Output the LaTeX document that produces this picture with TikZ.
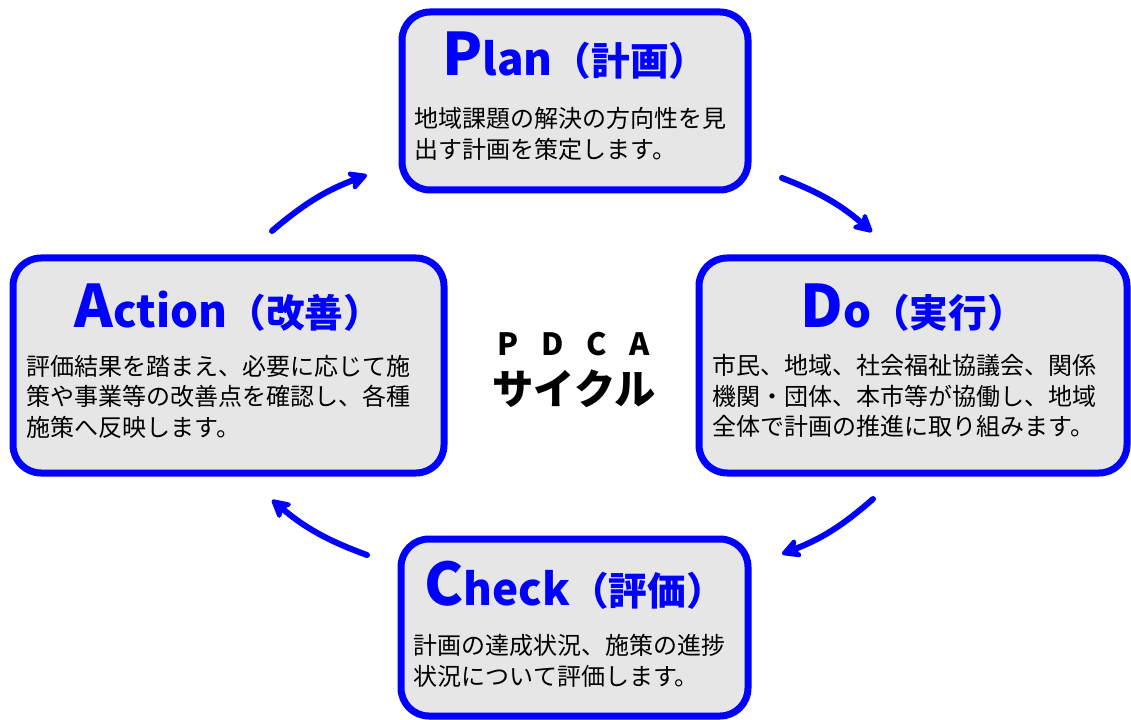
\documentclass[tikz,border=0pt]{standalone}
\usepackage{fontspec}
\setmainfont{Noto Sans CJK JP}
\usepackage{tikz}
\usetikzlibrary{positioning}
\usetikzlibrary{arrows.meta}
\definecolor{cycleblue}{HTML}{0000FF}
\definecolor{panelgray}{HTML}{E6E6E6}
\newcommand{\cyclehead}[3]{{\fontsize{44}{44}\selectfont #1}{\fontsize{33}{33}\selectfont #2}{\fontsize{29}{29}\selectfont （#3）}}

\begin{document}
\begin{tikzpicture}[x=0.75pt, y=-0.75pt,
		stagebox/.style={draw=cycleblue, line width=5.25pt, fill=panelgray, rounded corners=21pt, inner sep=0pt},
		stagehead/.style={text=cycleblue, font=\bfseries, inner sep=0pt, anchor=base},
		stagetext/.style={font=\fontsize{18}{23}\selectfont, align=left, inner sep=0pt, anchor=base west},
		cyclearrow/.style={draw=cycleblue, line width=4.5pt, line cap=round, -{Stealth[length=17pt, width=18pt, inset=4.5pt, round]}, bend left=10}]
		\useasboundingbox (0,0) rectangle (1131,720);
		\node [stagebox, minimum width=259.5pt, minimum height=133.5pt] at (575,101) (planni) {};
		\node [stagebox, minimum width=321pt, minimum height=161.25pt] at (913,365.5) (executi) {};
		\node [stagebox, minimum width=260.25pt, minimum height=132.75pt] at (574.5,627.5) (evaluati) {};
		\node [stagebox, minimum width=323.25pt, minimum height=161.25pt] at (228.5,365.5) (improvem) {};
		\node [stagehead, below=50.5pt of planni.north, anchor=base] (planttl) {\cyclehead{P}{lan}{計画}};
		\node [stagehead, below=54.75pt of executi.north, anchor=base] (executtl) {\cyclehead{D}{o}{実行}};
		\node [stagehead, below=52.5pt of evaluati.north, anchor=base] (evaluttl) {\cyclehead{C}{heck}{評価}};
		\node [stagehead, below=55pt of improvem.north, anchor=base] (improvtl) {\cyclehead{A}{ction}{改善}};
		% base of a multi-line node is its last line
		\node [stagetext] at ([xshift=12pt, yshift=-112.5pt]planni.north west) (plantxt) {地域課題の解決の方向性を見\\出す計画を策定します。};
		\node [stagetext] at ([xshift=12.75pt, yshift=-136pt]executi.north west) (executxt) {市民、地域、社会福祉協議会、関係\\機関・団体、本市等が協働し、地域\\全体で計画の推進に取り組みます。};
		\node [stagetext] at ([xshift=12pt, yshift=-112.5pt]evaluati.north west) (evalutxt) {計画の達成状況、施策の進捗\\状況について評価します。};
		\node [stagetext] at ([xshift=12.75pt, yshift=-136.5pt]improvem.north west) (improvtxt) {評価結果を踏まえ、必要に応じて施\\策や事業等の改善点を確認し、各種\\施策へ反映します。};
		\node [font=\fontsize{31}{37}\selectfont\bfseries, align=center, inner sep=0pt] at (574,370) (cyclettl) {{\fontsize{23}{37}\selectfont P\hspace{17pt}D\hspace{17pt}C\hspace{17pt}A}\\サイクル};
		% arrows between the stages
		\coordinate (improvout) at (272,231);
		\coordinate (planin) at (367,175);
		\coordinate (planout) at (782,178);
		\coordinate (executin) at (872,232);
		\coordinate (executout) at (873,499);
		\coordinate (evaluin) at (782,554);
		\coordinate (evaluout) at (367,555);
		\coordinate (improvin) at (272,500);
		\draw [cyclearrow] (improvout) to (planin);
		\draw [cyclearrow] (planout) to (executin);
		\draw [cyclearrow] (executout) to (evaluin);
		\draw [cyclearrow] (evaluout) to (improvin);
	\end{tikzpicture}
\end{document}
